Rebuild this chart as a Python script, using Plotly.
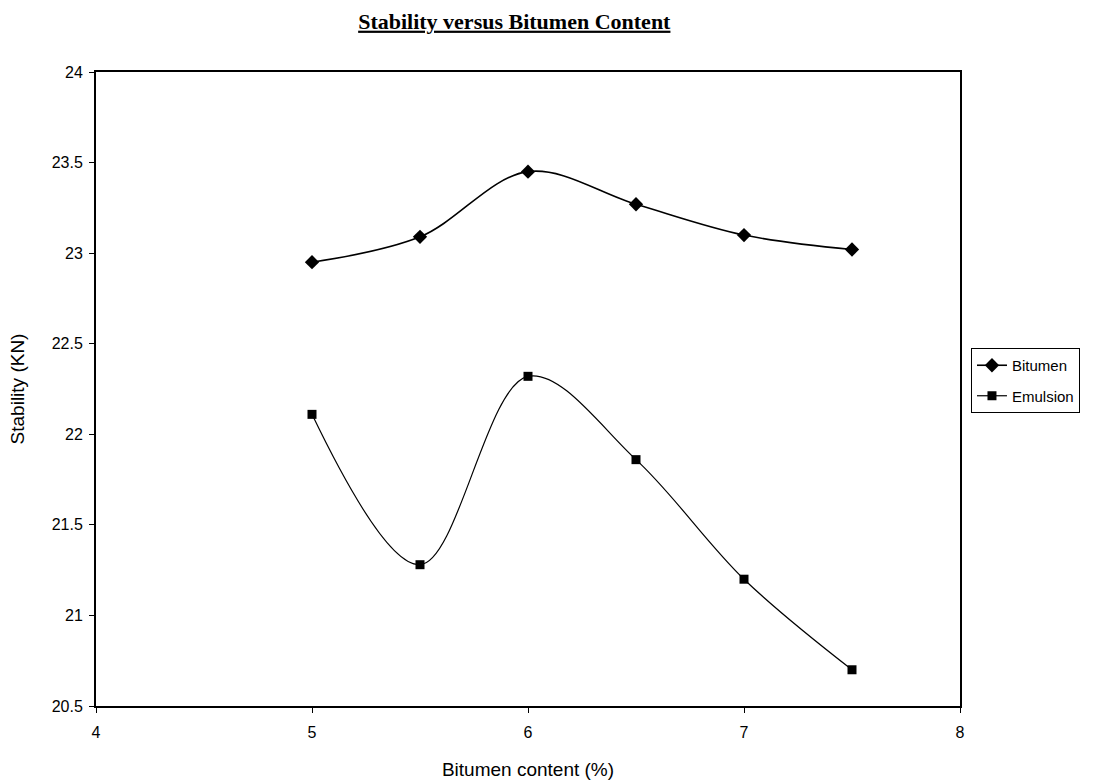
import plotly.graph_objects as go

bitumen_content = [5, 5.5, 6, 6.5, 7, 7.5]
stability_bitumen = [22.95, 23.09, 23.45, 23.27, 23.10, 23.02]
stability_emulsion = [22.11, 21.28, 22.32, 21.86, 21.20, 20.70]

x_ticks = [4, 5, 6, 7, 8]
y_ticks = [20.5, 21, 21.5, 22, 22.5, 23, 23.5, 24]
y_tick_text = ["20.5", "21", "21.5", "22", "22.5", "23", "23.5", "24"]

fig = go.Figure()
fig.add_trace(go.Scatter(
    x=bitumen_content, y=stability_bitumen, name="Bitumen", legendgroup="a",
    mode="lines+markers", line=dict(color="black", width=1.6, shape="spline", smoothing=1.0),
    marker=dict(symbol="diamond", size=11, color="black"),
))
fig.add_trace(go.Scatter(
    x=bitumen_content, y=stability_emulsion, name="Emulsion", legendgroup="b",
    mode="lines+markers", line=dict(color="black", width=1.2, shape="spline", smoothing=1.0),
    marker=dict(symbol="square", size=9, color="black"),
))

axis_common = dict(showgrid=False, zeroline=False, showline=True, linecolor="black",
                   linewidth=2, mirror=True, ticks="outside", ticklen=5, tickcolor="black",
                   tickwidth=1, automargin=False,
                   tickfont=dict(family="Liberation Sans, Arial", size=16, color="black"))

fig.update_layout(
    width=1106, height=783,
    margin=dict(l=96, r=146, t=72, b=77),
    paper_bgcolor="white", plot_bgcolor="white",
    title=dict(text="<b><u>Stability versus Bitumen Content</u></b>",
               font=dict(family="Liberation Serif, Times New Roman", size=22, color="black"),
               x=0.465, xref="container", xanchor="center",
               y=1 - 21 / 783, yref="container", yanchor="middle"),
    xaxis=dict(range=[4, 8], tickvals=x_ticks, ticklabelstandoff=6,
               title=dict(text="Bitumen content (%)", standoff=22,
                          font=dict(family="Liberation Sans, Arial", size=19, color="black")),
               **axis_common),
    yaxis=dict(range=[20.5, 24], tickvals=y_ticks, ticktext=y_tick_text, ticklabelstandoff=3,
               title=dict(text="Stability (KN)", standoff=22,
                          font=dict(family="Liberation Sans, Arial", size=19, color="black")),
               **axis_common),
    legend=dict(x=1.0127, y=(706 - 348) / 634, xanchor="left", yanchor="top",
                bordercolor="black", borderwidth=1, bgcolor="white",
                traceorder="grouped", tracegroupgap=8,
                font=dict(family="Liberation Sans, Arial", size=15, color="black")),
    showlegend=True,
)

fig.write_html("out.html")
